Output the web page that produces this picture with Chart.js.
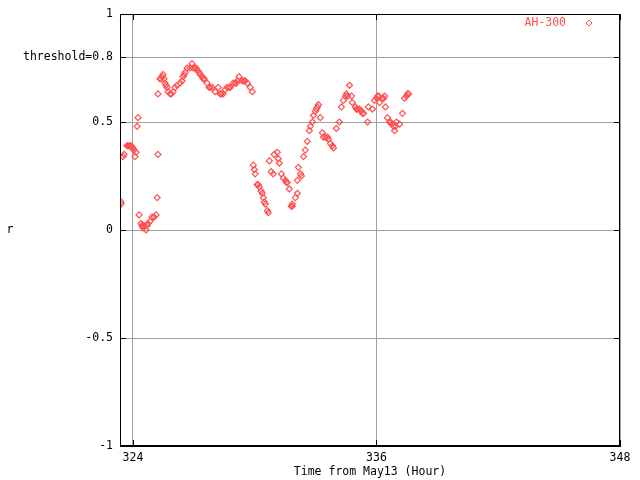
<!DOCTYPE html>
<html>
<head>
<meta charset="utf-8">
<script src="https://cdn.jsdelivr.net/npm/chart.js@4/dist/chart.umd.min.js"></script>
<style>
  html, body { margin: 0; padding: 0; background: #fff; }
  #wrap { width: 640px; height: 480px; }
</style>
</head>
<body>
<div id="wrap"><canvas id="chart" width="640" height="480"></canvas></div>
<script>
// hours from May13
const hours = [
  323.41, 323.41, 323.51, 323.56, 323.70, 323.75, 323.80, 323.85, 323.90, 323.95,
  324.00, 324.05, 324.10, 324.15, 324.20, 324.25, 324.30, 324.40, 324.44, 324.49,
  324.49, 324.54, 324.64, 324.69, 324.74, 324.84, 324.94, 325.04, 325.14, 325.19,
  325.23, 325.23, 325.33, 325.38, 325.43, 325.48, 325.53, 325.58, 325.63, 325.68,
  325.73, 325.83, 325.88, 325.98, 326.07, 326.17, 326.32, 326.42, 326.47, 326.52,
  326.57, 326.67, 326.81, 326.91, 326.96, 327.06, 327.11, 327.16, 327.26, 327.31,
  327.41, 327.46, 327.51, 327.65, 327.75, 327.80, 327.90, 328.05, 328.20, 328.30,
  328.35, 328.44, 328.54, 328.64, 328.74, 328.79, 328.94, 329.04, 329.09, 329.14,
  329.23, 329.38, 329.48, 329.53, 329.63, 329.78, 329.88, 329.93, 329.98, 330.02,
  330.12, 330.17, 330.22, 330.32, 330.37, 330.42, 330.47, 330.52, 330.62, 330.67,
  330.72, 330.81, 330.91, 330.96, 331.11, 331.16, 331.21, 331.31, 331.41, 331.51,
  331.56, 331.60, 331.70, 331.80, 331.85, 331.85, 332.00, 332.10, 332.10, 332.15,
  332.25, 332.30, 332.40, 332.49, 332.59, 332.69, 332.74, 332.84, 332.89, 332.99,
  333.04, 333.09, 333.14, 333.23, 333.33, 333.38, 333.48, 333.58, 333.63, 333.73,
  333.83, 333.88, 334.02, 334.17, 334.27, 334.37, 334.47, 334.52, 334.57, 334.67,
  334.77, 334.81, 334.96, 335.01, 335.06, 335.16, 335.26, 335.31, 335.36, 335.56,
  335.60, 335.80, 335.90, 336.00, 336.05, 336.10, 336.15, 336.30, 336.35, 336.40,
  336.44, 336.54, 336.64, 336.69, 336.74, 336.84, 336.89, 336.94, 336.99, 337.14,
  337.28, 337.38, 337.48, 337.53, 337.58
];
// correlation r for AH-300
const rValues = [
  0.13, 0.12, 0.34, 0.35, 0.39, 0.39, 0.39, 0.39, 0.39, 0.38,
  0.38, 0.37, 0.34, 0.36, 0.48, 0.52, 0.07, 0.03, 0.02, 0.01,
  0.02, 0.02, 0.00, 0.02, 0.03, 0.04, 0.06, 0.06, 0.07, 0.15,
  0.35, 0.63, 0.70, 0.70, 0.71, 0.72, 0.70, 0.68, 0.67, 0.66,
  0.64, 0.63, 0.63, 0.64, 0.66, 0.67, 0.68, 0.69, 0.71, 0.72,
  0.73, 0.75, 0.75, 0.77, 0.75, 0.75, 0.75, 0.74, 0.73, 0.72,
  0.71, 0.70, 0.70, 0.68, 0.66, 0.66, 0.66, 0.64, 0.66, 0.63,
  0.63, 0.63, 0.65, 0.66, 0.66, 0.66, 0.68, 0.68, 0.68, 0.69,
  0.71, 0.69, 0.69, 0.69, 0.68, 0.66, 0.64, 0.30, 0.28, 0.26,
  0.21, 0.21, 0.20, 0.18, 0.17, 0.15, 0.13, 0.12, 0.09, 0.08,
  0.32, 0.27, 0.26, 0.35, 0.36, 0.33, 0.31, 0.26, 0.24, 0.23,
  0.22, 0.22, 0.19, 0.11, 0.12, 0.11, 0.15, 0.17, 0.23, 0.29,
  0.26, 0.25, 0.34, 0.37, 0.41, 0.46, 0.48, 0.50, 0.53, 0.55,
  0.56, 0.57, 0.58, 0.52, 0.45, 0.43, 0.43, 0.43, 0.42, 0.40,
  0.39, 0.38, 0.47, 0.50, 0.57, 0.60, 0.62, 0.63, 0.62, 0.67,
  0.62, 0.59, 0.57, 0.56, 0.56, 0.56, 0.55, 0.54, 0.54, 0.50,
  0.57, 0.56, 0.60, 0.61, 0.62, 0.62, 0.59, 0.61, 0.61, 0.62,
  0.57, 0.52, 0.50, 0.50, 0.49, 0.48, 0.46, 0.48, 0.50, 0.49,
  0.54, 0.61, 0.62, 0.63, 0.63
];
const xTicks = [324, 336, 348];
const yTicks = [-1, -0.5, 0, 0.5, 0.8, 1];
const seriesName = 'AH-300';

const red = 'rgb(255,80,80)';
const font = { family: "'DejaVu Sans Mono', monospace", size: 11.5 };

const points = hours.map((h, i) => ({ x: h, y: rValues[i] }));

// frame, inward ticks, axis titles and key
const gnuplotBits = {
  id: 'gnuplotBits',
  afterDraw(chart) {
    const { ctx, chartArea: a, scales } = chart;
    ctx.save();
    ctx.strokeStyle = '#000';
    ctx.lineWidth = 1;
    ctx.strokeRect(a.left + 0.5, a.top + 0.5, a.right - a.left - 1, a.bottom - a.top - 1);
    ctx.beginPath();
    xTicks.forEach(t => {
      const px = Math.round(scales.x.getPixelForValue(t)) + 0.5;
      ctx.moveTo(px, a.bottom); ctx.lineTo(px, a.bottom - 6);
      ctx.moveTo(px, a.top); ctx.lineTo(px, a.top + 6);
    });
    yTicks.forEach(t => {
      const py = Math.round(scales.y.getPixelForValue(t)) + 0.5;
      ctx.moveTo(a.left, py); ctx.lineTo(a.left + 6, py);
      ctx.moveTo(a.right, py); ctx.lineTo(a.right - 6, py);
    });
    ctx.stroke();

    ctx.font = font.size + 'px ' + font.family;
    ctx.fillStyle = '#000';
    ctx.textAlign = 'center';
    ctx.textBaseline = 'middle';
    ctx.fillText('Time from May13 (Hour)', (a.left + a.right) / 2, 472);
    ctx.fillText('r', 10, (a.top + a.bottom) / 2);

    // key
    ctx.fillStyle = red;
    ctx.textAlign = 'right';
    ctx.fillText(seriesName, 566, 23);
    ctx.strokeStyle = red;
    ctx.beginPath();
    ctx.moveTo(589, 20); ctx.lineTo(592, 23); ctx.lineTo(589, 26); ctx.lineTo(586, 23); ctx.closePath();
    ctx.stroke();
    ctx.restore();
  }
};

new Chart(document.getElementById('chart'), {
  type: 'scatter',
  data: {
    datasets: [{
      label: seriesName,
      data: points,
      pointStyle: 'rectRot',
      pointRadius: 3,
      pointBorderWidth: 1.2,
      borderColor: red,
      backgroundColor: 'rgba(0,0,0,0)',
    }]
  },
  options: {
    responsive: false,
    animation: false,
    layout: { padding: { top: 14, right: 20, left: 0, bottom: 0 } },
    plugins: { legend: { display: false }, tooltip: { enabled: false } },
    scales: {
      x: {
        type: 'linear',
        min: 323.36,
        max: 348,
        afterBuildTicks: s => { s.ticks = xTicks.map(v => ({ value: v })); },
        afterFit: s => { s.height = 34; },
        ticks: { color: '#000', font: font, padding: 5, maxRotation: 0 },
        grid: { color: '#a0a0a0', drawTicks: false },
        border: { color: '#000' },
      },
      y: {
        min: -1,
        max: 1,
        afterBuildTicks: s => { s.ticks = yTicks.map(v => ({ value: v })); },
        afterFit: s => { s.width = 120; },
        ticks: {
          color: '#000', font: font, padding: 7,
          callback: v => v === 0.8 ? 'threshold=0.8' : String(v),
        },
        grid: { color: '#a0a0a0', drawTicks: false },
        border: { color: '#000' },
      }
    }
  },
  plugins: [gnuplotBits]
});
</script>
</body>
</html>
